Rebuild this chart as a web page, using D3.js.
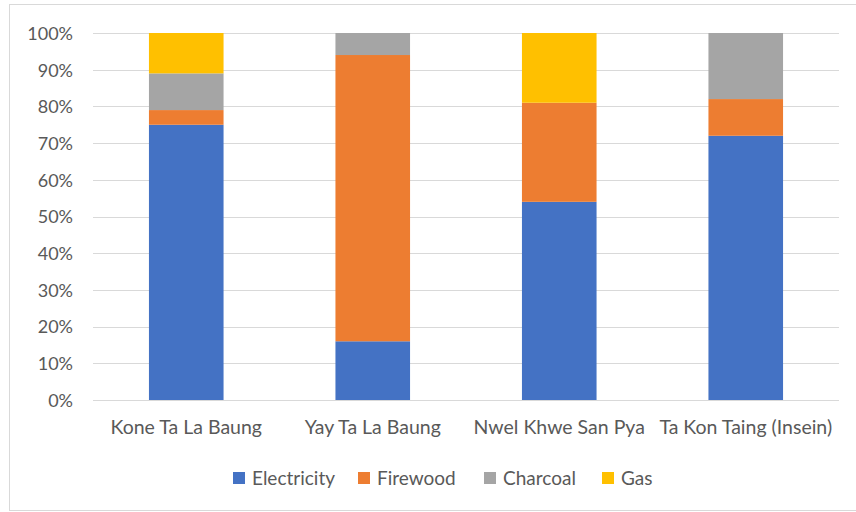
<!DOCTYPE html>
<html>
<head>
<meta charset="utf-8">
<script src="https://cdn.jsdelivr.net/npm/d3@7"></script>
<style>
  html, body { margin: 0; padding: 0; background: #fff; }
  svg text { font-family: Lato, "Open Sans", sans-serif; fill: #595959; }
</style>
</head>
<body>
<svg id="chart" width="856" height="512"></svg>
<script>
// Household cooking energy share by village (percent)
const categories = ["Kone Ta La Baung", "Yay Ta La Baung", "Nwel Khwe San Pya", "Ta Kon Taing (Insein)"];
const seriesNames = ["Electricity", "Firewood", "Charcoal", "Gas"];
const electricity = [75, 16, 54, 72];
const firewood    = [4, 78, 27, 10];
const charcoal    = [10, 6, 0, 18];
const gas         = [11, 0, 19, 0];
const yTicks = [0, 10, 20, 30, 40, 50, 60, 70, 80, 90, 100];
const colors = ["#4472C4", "#ED7D31", "#A5A5A5", "#FFC000"];

const seriesValues = [electricity, firewood, charcoal, gas];
const rows = categories.map((c, i) => {
  const r = { category: c };
  seriesNames.forEach((s, k) => { r[s] = seriesValues[k][i]; });
  return r;
});

const svg = d3.select("#chart");
const margin = { left: 93, right: 17, top: 33, bottom: 112 };
const W = 856, H = 512;

// outer chart border
svg.append("rect")
  .attr("x", 9.5).attr("y", 4.5)
  .attr("width", 856).attr("height", 506)
  .attr("fill", "none").attr("stroke", "#d9d9d9");

const x = d3.scaleBand()
  .domain(categories)
  .range([margin.left, W - margin.right])
  .paddingInner(0.6).paddingOuter(0.3);

const y = d3.scaleLinear()
  .domain([0, 100])
  .range([H - margin.bottom, margin.top]);

// gridlines
svg.append("g")
  .selectAll("line")
  .data(yTicks)
  .join("line")
  .attr("x1", margin.left).attr("x2", W - margin.right)
  .attr("y1", d => Math.round(y(d)) + 0.5).attr("y2", d => Math.round(y(d)) + 0.5)
  .attr("stroke", "#d9d9d9").attr("stroke-width", 1);

// y axis labels
const yAxis = d3.axisLeft(y).tickValues(yTicks).tickFormat(d => d + "%").tickSize(0).tickPadding(0);
const gy = svg.append("g").attr("transform", `translate(${margin.left - 20},0)`).call(yAxis);
gy.select(".domain").remove();
gy.selectAll("text").attr("font-size", 18).attr("dy", "0.35em").style("fill", "#595959");

// stacked bars
const stacked = d3.stack().keys(seriesNames)(rows);
svg.append("g")
  .selectAll("g")
  .data(stacked)
  .join("g")
  .attr("fill", (d, i) => colors[i])
  .selectAll("rect")
  .data(d => d)
  .join("rect")
  .attr("x", d => x(d.data.category))
  .attr("width", x.bandwidth())
  .attr("y", d => y(d[1]))
  .attr("height", d => y(d[0]) - y(d[1]));

// x axis labels
const xAxis = d3.axisBottom(x).tickSize(0).tickPadding(0);
const gx = svg.append("g").attr("transform", `translate(0,${H - margin.bottom + 27})`).call(xAxis);
gx.select(".domain").remove();
gx.selectAll("text").attr("font-size", 19.5).attr("dy", "0.35em").style("fill", "#595959");

// legend
const legendX = [233, 358, 484, 602];
const legend = svg.append("g")
  .selectAll("g")
  .data(seriesNames)
  .join("g")
  .attr("transform", (d, i) => `translate(${legendX[i]},478)`);
legend.append("rect")
  .attr("x", 0).attr("y", -6).attr("width", 12).attr("height", 12)
  .attr("fill", (d, i) => colors[i]);
legend.append("text")
  .attr("x", 19).attr("dy", "0.35em")
  .attr("font-size", 19)
  .text(d => d);
</script>
</body>
</html>
